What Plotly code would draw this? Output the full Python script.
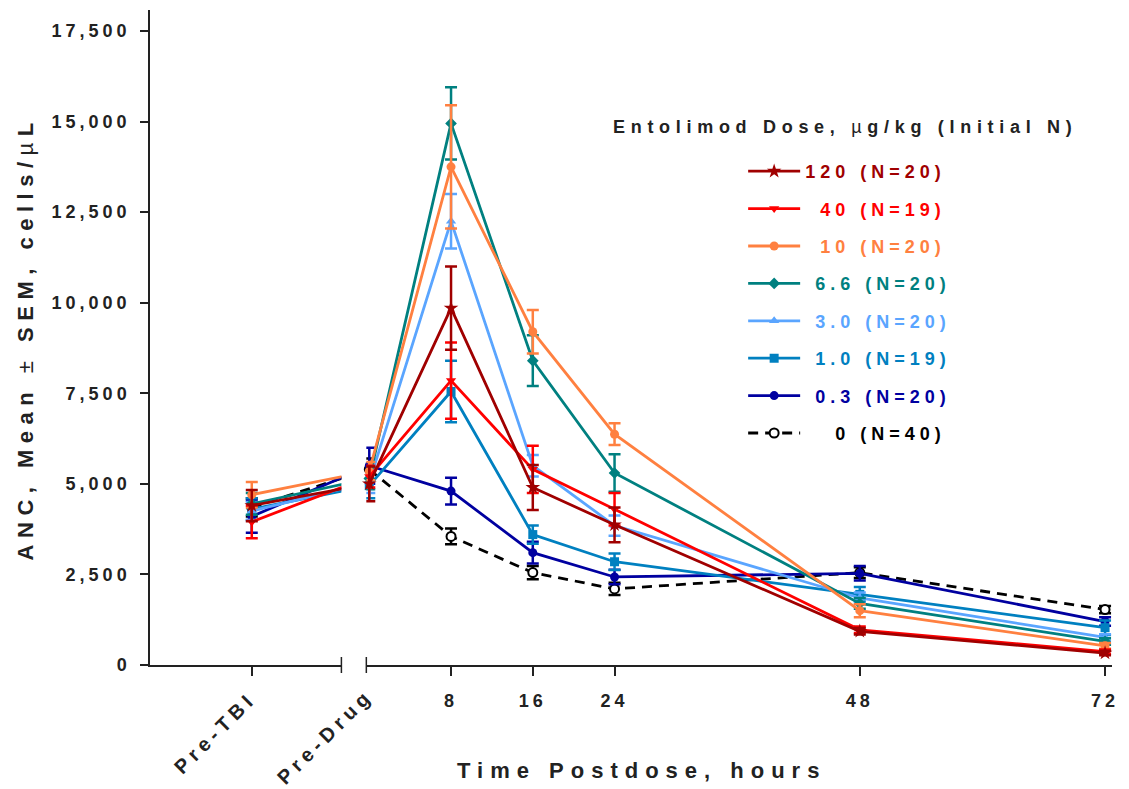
import plotly.graph_objects as go

# ---------------- data ----------------
HOURS = [0, 8, 16, 24, 48, 72]          # hours postdose (0 = Pre-Drug)
PRE_TBI_X = -11.5                        # position of the Pre-TBI sample on the broken axis

doses = ["120", "40", "10", "6.6", "3.0", "1.0", "0.3", "0"]
n_initial = [20, 19, 20, 20, 20, 19, 20, 40]
# leading padding so the dose column lines up on the right
dose_pad = ["", "\u2007", "\u2007", "\u2008", "\u2008", "\u2008", "\u2008", "\u2007\u2007"]

colors = ["#A00000", "#FF0000", "#FF8040", "#008080", "#5AA5FF", "#0080C0", "#0000A0", "#000000"]
symbols = ["star", "triangle-down", "circle", "diamond", "triangle-up", "square", "circle", "circle"]

pre_tbi_mean = [4400, 3950, 4700, 4450, 4250, 4300, 4100, 4350]
pre_tbi_sem = [430, 450, 350, 300, 250, 300, 450, 250]

anc_120 = [5000, 9850, 4900, 3870, 930, 330]
sem_120 = [480, 1150, 620, 480, 90, 60]
anc_40 = [5200, 7850, 5400, 4300, 970, 370]
sem_40 = [300, 1050, 650, 450, 90, 60]
anc_10 = [5350, 13750, 9200, 6370, 1500, 530]
sem_10 = [250, 1700, 600, 300, 180, 80]
anc_6_6 = [5150, 14950, 8400, 5300, 1700, 650]
sem_6_6 = [300, 1000, 700, 520, 150, 90]
anc_3_0 = [5050, 12250, 5500, 3850, 1850, 760]
sem_3_0 = [300, 750, 300, 280, 150, 90]
anc_1_0 = [4950, 7550, 3600, 2850, 1950, 1030]
sem_1_0 = [350, 850, 250, 230, 200, 200]
anc_0_3 = [5500, 4800, 3100, 2430, 2530, 1200]
sem_0_3 = [500, 370, 300, 200, 200, 120]
anc_0 = [5400, 3550, 2550, 2100, 2550, 1530]
sem_0 = [300, 220, 180, 170, 150, 100]

anc = [anc_120, anc_40, anc_10, anc_6_6, anc_3_0, anc_1_0, anc_0_3, anc_0]
sem = [sem_120, sem_40, sem_10, sem_6_6, sem_3_0, sem_1_0, sem_0_3, sem_0]

y_ticks = [0, 2500, 5000, 7500, 10000, 12500, 15000, 17500]
x_ticks = [8, 16, 24, 48, 72]

# ---------------- styling helpers ----------------
FONT = "Liberation Sans, Arial, sans-serif"
INK = "#222222"


def spaced(text, px):
    return f'<span style="letter-spacing:{px}px">{text}</span>'


fig = go.Figure()

# draw the control group first so the highest dose ends up on top;
# legendrank keeps the legend in descending dose order
for i in reversed(range(len(doses))):
    d = doses[i]
    col = colors[i]
    is_ctrl = d == "0"
    marker = dict(
        symbol=symbols[i],
        size=11 if symbols[i] == "star" else 9,
        color="white" if is_ctrl else col,
        line=dict(color=col, width=2 if is_ctrl else 0),
    )
    line = dict(color=col, width=2.8, dash="10px,7px" if is_ctrl else "solid")
    err_style = dict(type="data", thickness=2.5, width=6, color=col)
    name = spaced(f'<span style="color:{col}">{dose_pad[i]}{d} (N={n_initial[i]})</span>', 5)
    grp = f"g{i}"

    # Pre-TBI -> Pre-Drug segment (left part of the broken axis)
    fig.add_trace(go.Scatter(
        x=[PRE_TBI_X, HOURS[0]], y=[pre_tbi_mean[i], anc[i][0]],
        mode="lines+markers", line=line, marker=marker,
        error_y=dict(array=[pre_tbi_sem[i], 0], **err_style),
        xaxis="x", yaxis="y", legendgroup=grp, showlegend=False,
        legendrank=100 + i, hoverinfo="skip",
    ))
    # postdose time course
    fig.add_trace(go.Scatter(
        x=HOURS, y=anc[i],
        mode="lines+markers", line=line, marker=marker,
        error_y=dict(array=sem[i], **err_style),
        xaxis="x2", yaxis="y", legendgroup=grp, name=name, showlegend=True,
        legendrank=100 + i, cliponaxis=False,
    ))

# ---------------- layout ----------------
W, H = 1129, 789
ML, MR, MT, MB = 150, 14, 10, 124
PW, PH = W - ML - MR, H - MT - MB


def px_x(p):
    return (p - ML) / PW


def px_y(p):
    return (H - MB - p) / PH


axis_common = dict(
    showline=True, linecolor=INK, linewidth=1.5, ticks="outside", tickcolor=INK,
    tickwidth=1.5, showgrid=False, zeroline=False,
    tickfont=dict(family=FONT, size=18, color=INK, weight="bold"),
)

fig.update_layout(
    width=W, height=H,
    margin=dict(l=ML, r=MR, t=MT, b=MB),
    paper_bgcolor="white", plot_bgcolor="white",
    font=dict(family=FONT, color=INK),
    xaxis=dict(domain=[0, px_x(342)], range=[-21.46, -2.73], anchor="y",
               tickvals=[PRE_TBI_X], showticklabels=False, ticklen=9, **axis_common),
    xaxis2=dict(domain=[px_x(367), 1], range=[-0.29, 72.68], anchor="y",
                tickvals=x_ticks, ticktext=[spaced(str(t), 4) for t in x_ticks],
                ticklen=9, ticklabelstandoff=10, tickangle=0, **axis_common),
    yaxis=dict(domain=[0, 1], range=[0, 18080], anchor="x",
               tickvals=y_ticks, ticktext=[spaced(f"{t:,}", 4) for t in y_ticks],
               ticklen=8, ticklabelstandoff=6, **axis_common),
    legend=dict(
        x=px_x(745), y=px_y(153), xanchor="left", yanchor="top",
        traceorder="grouped",
        tracegroupgap=11, itemwidth=52, bgcolor="rgba(0,0,0,0)",
        font=dict(family=FONT, size=18, weight="bold"),
    ),
    showlegend=True,
)

# broken-axis end caps
for ref, xv in (("x domain", 1), ("x2 domain", 0)):
    fig.add_shape(type="line", xref=ref, x0=xv, x1=xv, yref="paper",
                  ysizemode="pixel", yanchor=0, y0=-8, y1=8,
                  line=dict(color=INK, width=1.5))

bold = dict(family=FONT, color=INK, weight="bold")
normal_span = '<span style="font-weight:normal">{}</span>'

fig.add_annotation(text=spaced("Pre-TBI", 5), xref="paper", yref="paper",
                   x=px_x(215), y=px_y(733), xanchor="center", yanchor="middle",
                   textangle=-45, showarrow=False, font=dict(size=20, **bold))
fig.add_annotation(text=spaced("Pre-Drug", 5), xref="paper", yref="paper",
                   x=px_x(326), y=px_y(736), xanchor="center", yanchor="middle",
                   textangle=-45, showarrow=False, font=dict(size=20, **bold))
fig.add_annotation(text=spaced("Time Postdose, hours", 7), xref="paper", yref="paper",
                   x=px_x(643), y=px_y(770), xanchor="center", yanchor="middle",
                   showarrow=False, font=dict(size=22, **bold))
fig.add_annotation(
    text=spaced("ANC, Mean " + normal_span.format("\u00b1") + " SEM, cells/" + normal_span.format("\u00b5") + "L", 6.5),
    xref="paper", yref="paper", x=px_x(25), y=px_y(338), xanchor="center", yanchor="middle",
    textangle=-90, showarrow=False, font=dict(size=22, **bold))
fig.add_annotation(
    text=spaced("Entolimod Dose, " + normal_span.format("\u00b5") + "g/kg (Initial N)", 5.7),
    xref="paper", yref="paper", x=px_x(612), y=px_y(127), xanchor="left", yanchor="middle",
    showarrow=False, font=dict(size=18, **bold))

fig.write_html("out.html")
